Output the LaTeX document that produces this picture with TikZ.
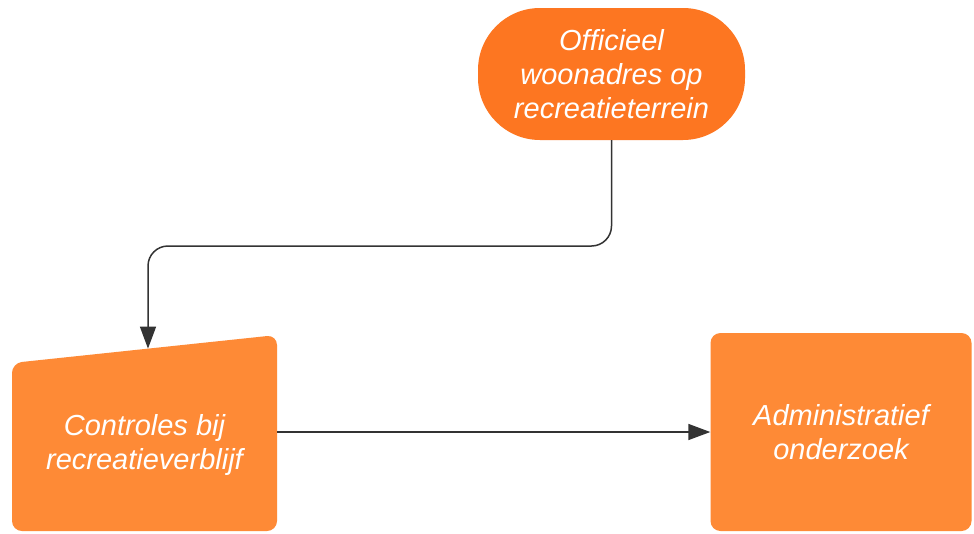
\documentclass[tikz,border=0pt]{standalone}
\usepackage{fontspec}
\setmainfont{Liberation Sans}
\usetikzlibrary{arrows.meta}
\definecolor{topor}{HTML}{FD7621}
\definecolor{boxor}{HTML}{FE8A36}
\definecolor{lineg}{HTML}{333333}
\tikzset{
  lbl/.style={text=white, font=\fontsize{29}{34}\selectfont\itshape, align=center},
  stadium/.style={fill=topor, rounded corners=62pt, minimum width=267pt, minimum height=132pt, lbl},
  boxnode/.style={fill=boxor, rounded corners=10pt, minimum width=261pt, minimum height=198pt, lbl},
  conn/.style={draw=lineg, line width=1.5pt, -{Triangle[length=22pt,width=16pt]}, rounded corners=20pt}
}
\begin{document}
\begin{tikzpicture}[x=1pt,y=-1pt]
\useasboundingbox[fill=white] (0,0) rectangle (974,533);
% top stadium
\node[stadium] (top) at (611.5,74) {Officieel\\woonadres op\\recreatieterrein};
% manual input shape
\fill[boxor, rounded corners=10pt] (12,363) -- (277,335) -- (277,531) -- (12,531) -- cycle;
\node[lbl, minimum width=265pt, minimum height=196pt, inner sep=0pt] (ctrl) at (144.5,445) {Controles bij\\recreatieverblijf};
\coordinate (ctrlin) at (148,348.6);
% right box
\node[boxnode] (adm) at (841,432) {Administratief\\onderzoek};
% connectors
\draw[conn] (top.south) -- (top.south |- 0,246) -- (ctrlin |- 0,246) -- (ctrlin);
\draw[conn] (ctrl.east |- 0,432) -- (adm.west |- 0,432);
\end{tikzpicture}
\end{document}
